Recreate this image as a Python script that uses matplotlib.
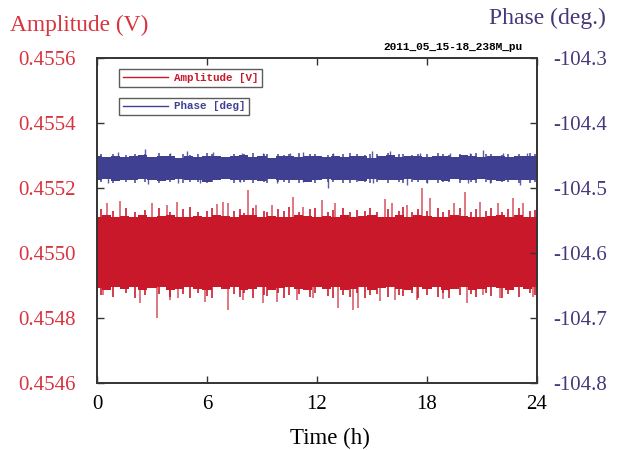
import numpy as np
import matplotlib
matplotlib.use("Agg")
import matplotlib.pyplot as plt
from matplotlib.lines import Line2D

RED = "#c8182a"
BLUE = "#404092"
RED_TXT = "#d9333f"
PUR_TXT = "#47377a"

# core band (dense part of the noise), read every 0.5 h
core_t = np.arange(0, 24.01, 0.5)
amp_hi = [0.455112, 0.455118, 0.455110, 0.455115, 0.455112, 0.455117, 0.455110,
          0.455113, 0.455116, 0.455111, 0.455110, 0.455115, 0.455112, 0.455118,
          0.455114, 0.455110, 0.455116, 0.455118, 0.455112, 0.455115, 0.455110,
          0.455112, 0.455117, 0.455115, 0.455112, 0.455114, 0.455110, 0.455118,
          0.455112, 0.455115, 0.455118, 0.455112, 0.455110, 0.455116, 0.455112,
          0.455118, 0.455114, 0.455110, 0.455112, 0.455117, 0.455115, 0.455112,
          0.455110, 0.455115, 0.455118, 0.455112, 0.455116, 0.455110, 0.455112]
amp_lo = [0.454892, 0.454886, 0.454895, 0.454890, 0.454896, 0.454887, 0.454891,
          0.454894, 0.454886, 0.454890, 0.454896, 0.454890, 0.454886, 0.454894,
          0.454890, 0.454896, 0.454887, 0.454890, 0.454894, 0.454886, 0.454891,
          0.454896, 0.454890, 0.454886, 0.454894, 0.454890, 0.454896, 0.454887,
          0.454890, 0.454894, 0.454886, 0.454891, 0.454896, 0.454890, 0.454887,
          0.454894, 0.454890, 0.454896, 0.454886, 0.454890, 0.454894, 0.454887,
          0.454890, 0.454896, 0.454891, 0.454886, 0.454894, 0.454890, 0.454894]
ph_hi = [-104.451, -104.453, -104.450, -104.452, -104.451, -104.449, -104.453,
         -104.451, -104.450, -104.454, -104.451, -104.452, -104.450, -104.451,
         -104.453, -104.451, -104.449, -104.452, -104.451, -104.454, -104.450,
         -104.451, -104.453, -104.451, -104.450, -104.452, -104.451, -104.453,
         -104.450, -104.451, -104.454, -104.451, -104.449, -104.452, -104.451,
         -104.451, -104.453, -104.450, -104.451, -104.452, -104.449, -104.451,
         -104.452, -104.450, -104.451, -104.453, -104.451, -104.450, -104.451]
ph_lo = [-104.488, -104.486, -104.489, -104.487, -104.488, -104.486, -104.488,
         -104.489, -104.487, -104.486, -104.488, -104.487, -104.490, -104.487,
         -104.486, -104.488, -104.487, -104.487, -104.489, -104.486, -104.488,
         -104.488, -104.487, -104.490, -104.488, -104.486, -104.488, -104.487,
         -104.488, -104.489, -104.486, -104.487, -104.488, -104.488, -104.486,
         -104.487, -104.488, -104.488, -104.489, -104.486, -104.488, -104.488,
         -104.486, -104.488, -104.489, -104.487, -104.488, -104.488, -104.487]

# isolated tall spikes sticking out of the band
amp_up_t = [0.55, 1.25, 3.0, 3.8, 4.35, 6.55, 6.9, 7.15, 8.25, 8.7, 9.55, 10.7, 11.25,
            12.3, 13.0, 15.7, 16.1, 16.9, 17.75, 18.15, 19.5, 20.05, 20.9, 21.85, 22.7, 23.25]
amp_up_v = [0.455154, 0.455160, 0.455154, 0.455148, 0.455157, 0.455151, 0.455157,
            0.455154, 0.455194, 0.455148, 0.455148, 0.455172, 0.455142, 0.455163,
            0.455154, 0.455166, 0.455154, 0.455148, 0.455200, 0.455169, 0.455154,
            0.455188, 0.455157, 0.455154, 0.455169, 0.455154]
amp_dn_t = [0.33, 2.35, 3.27, 3.98, 4.42, 5.89, 7.15, 7.96, 9.05, 9.82, 10.9, 11.78,
            13.15, 13.96, 14.24, 15.44, 16.25, 17.45, 18.87, 20.18, 21.05, 21.98, 23.78]
amp_dn_v = [0.454871, 0.454846, 0.454800, 0.454855, 0.454862, 0.454849, 0.454825,
            0.454855, 0.454846, 0.454849, 0.454855, 0.454862, 0.454831, 0.454825,
            0.454831, 0.454852, 0.454855, 0.454855, 0.454858, 0.454846, 0.454871,
            0.454862, 0.454865]
# shorter spikes fringing the band edges
fringe_t = [0.2, 0.9, 1.6, 2.1, 2.6, 3.4, 4.0, 4.7, 5.1, 5.5, 6.0, 6.3, 7.5, 7.8,
            8.0, 8.5, 9.1, 9.3, 9.9, 10.2, 10.5, 11.0, 11.6, 11.9, 12.6, 12.9, 13.4,
            13.8, 14.2, 14.6, 14.9, 15.3, 15.9, 16.5, 16.7, 17.2, 17.5, 18.0, 18.6,
            18.9, 19.2, 19.8, 20.4, 20.7, 21.2, 21.5, 22.1, 22.4, 23.0, 23.6, 23.9]
amp_fr_up = [0.455135, 0.455128, 0.455140, 0.455125, 0.455132, 0.455138, 0.455127,
             0.455135, 0.455142, 0.455126, 0.455130, 0.455138, 0.455128, 0.455135,
             0.455124, 0.455140, 0.455130, 0.455127, 0.455136, 0.455129, 0.455141,
             0.455126, 0.455134, 0.455138, 0.455127, 0.455132, 0.455140, 0.455125,
             0.455133, 0.455128, 0.455139, 0.455126, 0.455135, 0.455130, 0.455142,
             0.455127, 0.455134, 0.455128, 0.455138, 0.455125, 0.455133, 0.455140,
             0.455127, 0.455135, 0.455129, 0.455138, 0.455126, 0.455134, 0.455140,
             0.455128, 0.455132]
amp_fr_dn = [0.454872, 0.454866, 0.454878, 0.454862, 0.454870, 0.454875, 0.454865,
             0.454873, 0.454860, 0.454877, 0.454868, 0.454863, 0.454874, 0.454866,
             0.454878, 0.454861, 0.454871, 0.454867, 0.454876, 0.454862, 0.454870,
             0.454874, 0.454865, 0.454878, 0.454868, 0.454863, 0.454872, 0.454866,
             0.454877, 0.454861, 0.454870, 0.454875, 0.454864, 0.454872, 0.454867,
             0.454878, 0.454862, 0.454871, 0.454866, 0.454876, 0.454863, 0.454870,
             0.454874, 0.454865, 0.454877, 0.454868, 0.454862, 0.454873, 0.454866,
             0.454876, 0.454870]
ph_up_t = [1.15, 2.62, 3.98, 4.91, 6.33, 7.91, 9.05, 10.53, 11.24, 12.87, 15.0, 15.98,
           17.62, 19.25, 20.35, 21.05, 22.15, 23.45]
ph_up_v = [-104.4446, -104.4400, -104.4462, -104.4430, -104.4446, -104.4462, -104.4462,
           -104.4462, -104.4446, -104.4462, -104.4430, -104.4430, -104.4462, -104.4462,
           -104.4462, -104.4415, -104.4462, -104.4462]
ph_dn_t = [0.6, 2.78, 4.42, 5.62, 7.8, 9.82, 11.24, 12.6, 15.05, 16.9, 18.0, 20.24,
           21.44, 23.07]
ph_dn_v = [-104.4923, -104.4938, -104.4923, -104.4923, -104.4908, -104.4923, -104.4908,
           -104.5000, -104.4923, -104.4954, -104.4923, -104.4923, -104.4923, -104.4954]
ph_fr_up = [-104.448, -104.447, -104.449, -104.447, -104.448, -104.446, -104.448,
            -104.447, -104.449, -104.448, -104.446, -104.448, -104.447, -104.449,
            -104.448, -104.446, -104.448, -104.447, -104.448, -104.449, -104.447,
            -104.446, -104.448, -104.447, -104.449, -104.448, -104.447, -104.446,
            -104.448, -104.449, -104.447, -104.448, -104.446, -104.448, -104.447,
            -104.449, -104.448, -104.447, -104.446, -104.448, -104.449, -104.447,
            -104.448, -104.446, -104.448, -104.447, -104.449, -104.448, -104.447,
            -104.446, -104.448]
ph_fr_dn = [-104.491, -104.492, -104.490, -104.492, -104.491, -104.493, -104.491,
            -104.492, -104.490, -104.491, -104.493, -104.491, -104.492, -104.490,
            -104.491, -104.493, -104.491, -104.492, -104.491, -104.490, -104.492,
            -104.493, -104.491, -104.492, -104.490, -104.491, -104.492, -104.493,
            -104.491, -104.490, -104.492, -104.491, -104.493, -104.491, -104.492,
            -104.490, -104.491, -104.492, -104.493, -104.491, -104.490, -104.492,
            -104.491, -104.493, -104.491, -104.492, -104.490, -104.491, -104.492,
            -104.493, -104.491]

x_ticks = [0, 6, 12, 18, 24]
amp_ticks = [0.4546, 0.4548, 0.4550, 0.4552, 0.4554, 0.4556]
ph_ticks = [-104.8, -104.7, -104.6, -104.5, -104.4, -104.3]

SERIF = ["Liberation Serif", "DejaVu Serif"]
MONO = ["Liberation Mono", "DejaVu Sans Mono"]

fig = plt.figure(figsize=(6.21, 4.5), dpi=100)
ax = fig.add_axes([0.1562, 0.1489, 0.7085, 0.7222])
ax2 = ax.twinx()


def spikes(a, ts, vs, base, color, lw, alpha):
    pairs = list(zip(ts, vs))
    a.vlines([p[0] for p in pairs], base, [p[1] for p in pairs],
             color=color, lw=lw, alpha=alpha, zorder=2)


# amplitude
ax.fill_between(core_t, amp_lo, amp_hi, step="mid", color=RED, lw=0, zorder=2)
spikes(ax, fringe_t, amp_fr_up, 0.4550, RED, 1.3, 0.9)
spikes(ax, fringe_t, amp_fr_dn, 0.4550, RED, 1.3, 0.9)
spikes(ax, amp_up_t, amp_up_v, 0.4550, RED, 1.1, 0.75)
spikes(ax, amp_dn_t, amp_dn_v, 0.4550, RED, 1.1, 0.75)
# phase
ax2.fill_between(core_t, ph_lo, ph_hi, step="mid", color=BLUE, lw=0, zorder=2)
spikes(ax2, fringe_t, ph_fr_up, -104.47, BLUE, 1.2, 0.9)
spikes(ax2, fringe_t, ph_fr_dn, -104.47, BLUE, 1.2, 0.9)
spikes(ax2, ph_up_t, ph_up_v, -104.47, BLUE, 1.0, 0.85)
spikes(ax2, ph_dn_t, ph_dn_v, -104.47, BLUE, 1.0, 0.85)

ax.set_xlim(0, 24)
ax.set_ylim(0.4546, 0.4556)
ax2.set_ylim(-104.8, -104.3)
ax.set_xticks(x_ticks)
ax.set_xticklabels([str(v) for v in x_ticks], family=SERIF, fontsize=15)
ax.set_yticks(amp_ticks)
ax.set_yticklabels([f"{v:.4f}" for v in amp_ticks], family=SERIF, fontsize=15, color=RED_TXT)
ax2.set_yticks(ph_ticks)
ax2.set_yticklabels([f"{v:.1f}" for v in ph_ticks], family=SERIF, fontsize=15, color=PUR_TXT)

ax.tick_params(axis="x", direction="in", length=5, width=1, top=True, pad=9, color="#333333")
ax.tick_params(axis="y", direction="in", length=5, width=1, pad=15, color="#333333")
ax2.tick_params(axis="y", direction="in", length=5, width=1, pad=12, color="#333333")
for a in (ax, ax2):
    for s in a.spines.values():
        s.set_color("#333333")
        s.set_linewidth(1.2)

fig.text(330 / 621, 1 - 438 / 450, "Time (h)", family=SERIF, fontsize=16.5,
         ha="center", va="center")
fig.text(10 / 621, 1 - 25 / 450, "Amplitude (V)", family=SERIF, fontsize=16.8,
         color=RED_TXT, ha="left", va="center")
fig.text(606 / 621, 1 - 18 / 450, "Phase (deg.)", family=SERIF, fontsize=17,
         color=PUR_TXT, ha="right", va="center")
fig.text(453 / 621, 1 - 47 / 450, "2011_05_15-18_238M_pu", family=MONO, fontsize=8,
         weight="bold", ha="center", va="center")

mono = {"family": MONO, "size": 7.8, "weight": "bold"}
leg1 = ax.legend(handles=[Line2D([], [], color=RED, lw=1)], labels=["Amplitude [V]"],
                 loc="upper left", bbox_to_anchor=(0.05, 0.965), frameon=True,
                 fancybox=False, edgecolor="#333333", prop=mono, labelcolor=RED,
                 handlelength=4.2, handletextpad=0.5, borderpad=0.35, borderaxespad=0)
leg1.get_frame().set_linewidth(1.0)
leg2 = ax2.legend(handles=[Line2D([], [], color=BLUE, lw=1)], labels=["Phase [deg]"],
                  loc="upper left", bbox_to_anchor=(0.05, 0.878), frameon=True,
                  fancybox=False, edgecolor="#333333", prop=mono, labelcolor=BLUE,
                  handlelength=4.2, handletextpad=0.5, borderpad=0.35, borderaxespad=0)
leg2.get_frame().set_linewidth(1.0)

fig.savefig("out.png", dpi=100)
